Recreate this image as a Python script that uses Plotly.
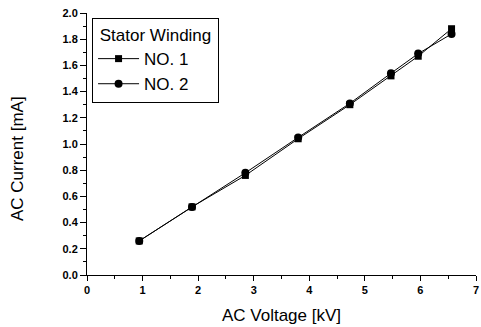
import plotly.graph_objects as go

voltage_kv = [0.94, 1.89, 2.85, 3.80, 4.73, 5.47, 5.96, 6.56]
no1_current = [0.26, 0.52, 0.76, 1.04, 1.30, 1.52, 1.67, 1.88]
no2_current = [0.26, 0.52, 0.78, 1.05, 1.31, 1.54, 1.69, 1.84]
series_names = ["NO. 1", "NO. 2"]
legend_title = "\u00a0Stator Winding\u00a0"
x_title = "AC Voltage [kV]"
y_title = "AC Current [mA]"

FONT = "Liberation Sans, Arial, sans-serif"

fig = go.Figure()
fig.add_trace(go.Scatter(x=voltage_kv, y=no1_current, mode="lines+markers", name=series_names[0],
                         line=dict(color="black", width=1),
                         marker=dict(symbol="square", size=7, color="black")))
fig.add_trace(go.Scatter(x=voltage_kv, y=no2_current, mode="lines+markers", name=series_names[1],
                         line=dict(color="black", width=1),
                         marker=dict(symbol="circle", size=8, color="black")))

fig.update_layout(
    width=481, height=327,
    margin=dict(l=87, r=5, t=13, b=52),
    paper_bgcolor="white", plot_bgcolor="white",
    font=dict(family=FONT, color="black"),
    legend=dict(
        title=dict(text=legend_title, font=dict(size=17, family=FONT)),
        font=dict(size=17, family=FONT),
        x=0.013, y=0.981, xanchor="left", yanchor="top",
        bordercolor="black", borderwidth=1, bgcolor="white",
        itemwidth=41,
        tracegroupgap=2,
    ),
    xaxis=dict(
        range=[0, 7], tickvals=[0, 1, 2, 3, 4, 5, 6, 7],
        automargin=False,
        showgrid=False, zeroline=False, showline=True, linecolor="black", linewidth=1,
        ticks="outside", ticklen=5, tickcolor="black",
        minor=dict(dtick=0.5, ticks="outside", ticklen=3, tickcolor="black"),
        tickfont=dict(size=11, family="Liberation Sans, Arial", weight="bold"),
        title=dict(text=x_title, font=dict(size=17, family=FONT), standoff=13),
    ),
    yaxis=dict(
        range=[0, 2.0], dtick=0.2, tickformat=".1f",
        automargin=False,
        showgrid=False, zeroline=False, showline=True, linecolor="black", linewidth=1,
        ticks="outside", ticklen=6, tickcolor="black",
        minor=dict(dtick=0.1, ticks="outside", ticklen=3, tickcolor="black"),
        tickfont=dict(size=11, family="Liberation Sans, Arial", weight="bold"),
    ),
    annotations=[dict(
        text=y_title, textangle=-90, showarrow=False,
        xref="paper", yref="paper", x=-0.177, y=0.443,
        xanchor="center", yanchor="middle",
        font=dict(size=17, family=FONT, color="black"),
    )],
)

# remove the browser's default 8px body margin so the figure sits at the page origin
fig.write_html("out.html", config={"displayModeBar": False},
               post_script="document.body.style.margin='0px';")
